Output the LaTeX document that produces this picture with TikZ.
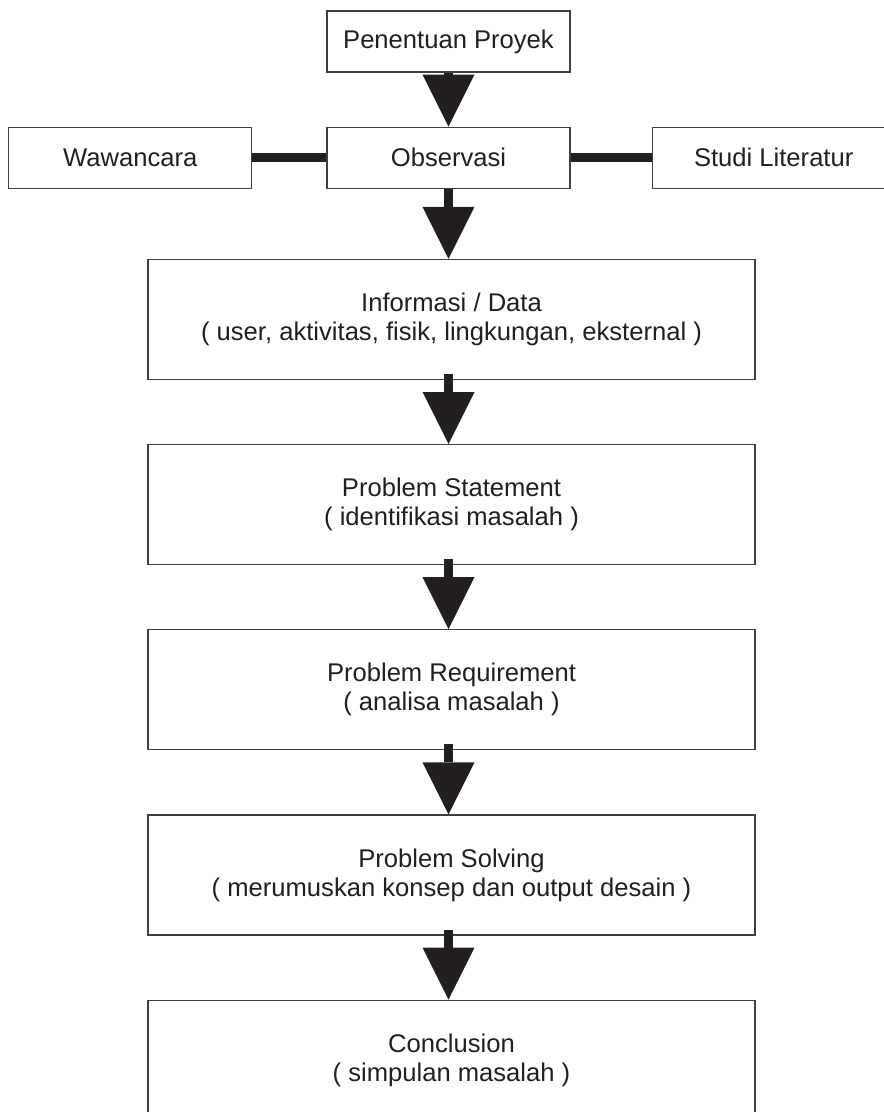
\documentclass[tikz,border=0pt]{standalone}
\usepackage{fontspec}
\setmainfont{Liberation Sans}
\usepackage{tikz}
\usetikzlibrary{arrows.meta, positioning}
\definecolor{ink}{RGB}{35, 31, 32}

\begin{document}
\begin{tikzpicture}[
  box/.style={
    rectangle, draw=black!75, fill=white, line width=0.6pt,
    minimum width=121.5pt, minimum height=30.5pt,
    inner sep=0pt, text=ink, align=center,
    font=\fontsize{12.8}{14.5}\selectfont
  },
  widebox/.style={
    box, minimum width=303.5pt, minimum height=60pt
  },
  flow/.style={
    draw=ink, line width=4.5pt,
    -{Triangle[width=26pt, length=26pt, line width=0pt]}
  },
  bar/.style={draw=ink, line width=4.75pt}
]
  \useasboundingbox (0,0) rectangle (441.5pt,-556pt);

  \node[box] (pp) at (224.25pt,-20.75pt) {Penentuan Proyek};
  \node[box, below=27pt of pp] (obs) {Observasi};
  \node[box, left=37pt of obs]   (waw) {Wawancara};
  \node[box, right=40.5pt of obs] (lit) {Studi Literatur};

  \node[widebox, below=35pt of obs, xshift=1.5pt] (info)
    {Informasi / Data\\( user, aktivitas, fisik, lingkungan, eksternal )};
  \node[widebox, below=32pt of info] (stmt)
    {Problem Statement\\( identifikasi masalah )};
  \node[widebox, below=32pt of stmt] (req)
    {Problem Requirement\\( analisa masalah )};
  \node[widebox, below=32pt of req]  (solve)
    {Problem Solving\\( merumuskan konsep dan output desain )};
  \node[widebox, below=32pt of solve] (concl)
    {Conclusion\\( simpulan masalah )};

  \draw[bar] (waw) -- (obs);
  \draw[bar] (obs) -- (lit);

  \draw[flow] (pp.south) -- (obs.north);
  \draw[flow] (obs.south) -- (obs.south |- info.north);
  \draw[flow, shorten <=-3pt] (obs.south |- info.south) -- (obs.south |- stmt.north);
  \draw[flow, shorten <=-3pt] (obs.south |- stmt.south) -- (obs.south |- req.north);
  \draw[flow, shorten <=-3pt] (obs.south |- req.south)  -- (obs.south |- solve.north);
  \draw[flow, shorten <=-3pt] (obs.south |- solve.south) -- (obs.south |- concl.north);
\end{tikzpicture}
\end{document}
